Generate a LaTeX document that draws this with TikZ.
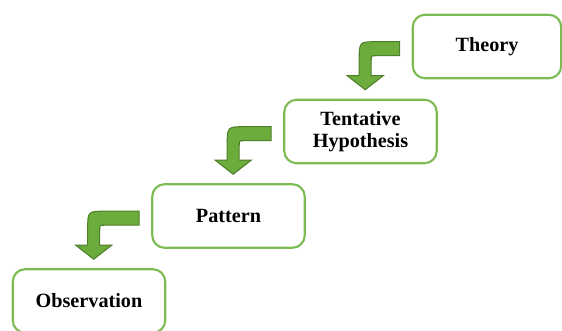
\documentclass[tikz,border=0pt]{standalone}
\usepackage{fontspec}
\setmainfont{Liberation Serif}
\usetikzlibrary{calc}
\definecolor{boxgreen}{HTML}{7DBB55}
\definecolor{arrowfill}{HTML}{6CAC3C}
\definecolor{arrowline}{HTML}{4E7F2A}
\tikzset{
  stepbox/.style={draw=boxgreen,line width=1.2pt,rounded corners=7pt,fill=white,
    minimum width=3.05cm,minimum height=1.27cm,align=center,
    font=\fontsize{11.5}{12.5}\selectfont\bfseries},
  bentarrow/.style={fill=arrowfill,draw=arrowline,line width=0.6pt,line join=miter}
}
\begin{document}
\begin{tikzpicture}[x=0.02cm,y=-0.02cm]
  \clip (0,0) rectangle (562,331);
  \useasboundingbox (0,0) rectangle (562,331);
  \node[stepbox,minimum width=2.97cm] (theory) at (487,46.5) {Theory};
  \node[stepbox] (hypo) at (360.5,131.5) {Tentative\\Hypothesis};
  \node[stepbox] (pattern) at (228.5,216) {Pattern};
  \node[stepbox] (obs) at (89,301) {Observation};
  \foreach \a/\b in {theory/hypo,hypo/pattern,pattern/obs}{
    \coordinate (s) at ($(\a.north west)+(-12,28)$);
    \coordinate (t) at ($(\b.north west)+(82,-9)$);
    \draw[bentarrow] (s) -- ($(t|-s)+(12,0)$)
      .. controls ($(t|-s)+(-6,0)$) .. ($(t|-s)+(-6,18)$)
      -- ($(t)+(-6,-14)$) -- ($(t)+(-18,-14)$) -- (t)
      -- ($(t)+(18,-14)$) -- ($(t)+(6,-14)$) -- ($(t|-s)+(6,19)$)
      .. controls ($(t|-s)+(6,14)$) .. ($(t|-s)+(11,14)$)
      -- ($(s)+(0,14)$) -- cycle;
  }
\end{tikzpicture}
\end{document}
